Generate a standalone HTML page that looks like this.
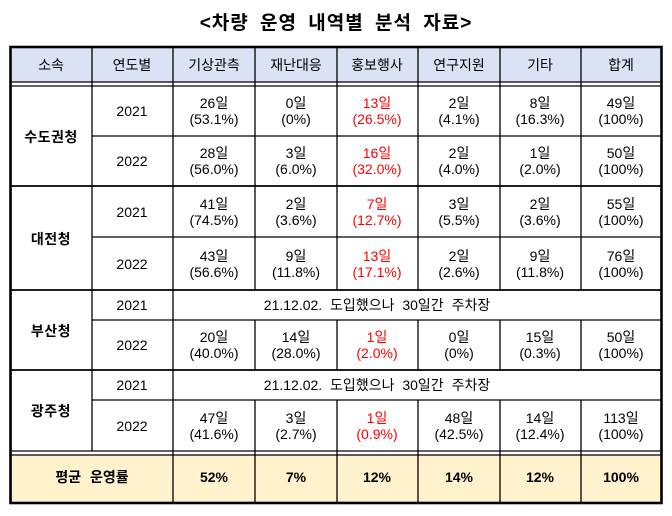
<!DOCTYPE html><html><head><meta charset="utf-8"><style>body{margin:0;background:#fff}svg text{font-family:"Liberation Sans","Noto Sans CJK KR",sans-serif;font-size:14px;fill:#000;text-anchor:middle}</style></head><body>
<svg width="672" height="511" xmlns="http://www.w3.org/2000/svg">
<text x="336" y="29" style="font-size:19px;font-weight:bold;letter-spacing:1px;word-spacing:5px">&lt;차량 운영 내역별 분석 자료&gt;</text>
<rect x="10" y="47" width="652" height="35" fill="#dae3f3"/>
<rect x="10" y="455" width="652" height="48" fill="#fff2cc"/>
<g stroke="#000" stroke-width="1.3" fill="none">
<line x1="10" y1="82" x2="662" y2="82"/><line x1="10" y1="86" x2="662" y2="86"/>
<line x1="10" y1="451" x2="662" y2="451"/><line x1="10" y1="455" x2="662" y2="455"/>
<line x1="10" y1="186" x2="662" y2="186" stroke-width="1.8"/><line x1="10" y1="290" x2="662" y2="290" stroke-width="1.8"/><line x1="10" y1="370" x2="662" y2="370" stroke-width="1.8"/>
<line x1="92" y1="136" x2="662" y2="136"/><line x1="92" y1="237" x2="662" y2="237"/><line x1="92" y1="320" x2="662" y2="320"/><line x1="92" y1="400" x2="662" y2="400"/>
<line x1="92" y1="47" x2="92" y2="451"/><line x1="173" y1="47" x2="173" y2="503"/>
<line x1="255" y1="47" x2="255" y2="290"/><line x1="337" y1="47" x2="337" y2="290"/><line x1="418" y1="47" x2="418" y2="290"/><line x1="500" y1="47" x2="500" y2="290"/><line x1="581" y1="47" x2="581" y2="290"/>
<line x1="255" y1="320" x2="255" y2="370"/><line x1="337" y1="320" x2="337" y2="370"/><line x1="418" y1="320" x2="418" y2="370"/><line x1="500" y1="320" x2="500" y2="370"/><line x1="581" y1="320" x2="581" y2="370"/>
<line x1="255" y1="400" x2="255" y2="503"/><line x1="337" y1="400" x2="337" y2="503"/><line x1="418" y1="400" x2="418" y2="503"/><line x1="500" y1="400" x2="500" y2="503"/><line x1="581" y1="400" x2="581" y2="503"/>
<rect x="10.5" y="47" width="651" height="456" stroke-width="2.6"/>
</g>
<g>
<text x="51" y="70">소속</text><text x="132" y="70">연도별</text><text x="214" y="70">기상관측</text><text x="296" y="70">재난대응</text><text x="377" y="70">홍보행사</text><text x="459" y="70">연구지원</text><text x="540" y="70">기타</text><text x="621" y="70">합계</text>
<g style="font-weight:bold;letter-spacing:0.5px"><text x="51" y="142" style="font-weight:bold">수도권청</text><text x="51" y="244" style="font-weight:bold">대전청</text><text x="51" y="336" style="font-weight:bold">부산청</text><text x="51" y="416" style="font-weight:bold">광주청</text></g>
<text x="132" y="116">2021</text><text x="132" y="166">2022</text><text x="132" y="217">2021</text><text x="132" y="269">2022</text><text x="132" y="310">2021</text><text x="132" y="350">2022</text><text x="132" y="390">2021</text><text x="132" y="431">2022</text>
<text x="377" y="310" style="word-spacing:4px">21.12.02. 도입했으나 30일간 주차장</text><text x="377" y="390" style="word-spacing:4px">21.12.02. 도입했으나 30일간 주차장</text>
</g>
<g style="font-weight:bold">
<text x="92" y="482" style="font-weight:bold;word-spacing:5px">평균 운영률</text>
<text x="214" y="482" style="font-weight:bold">52%</text><text x="296" y="482" style="font-weight:bold">7%</text><text x="377" y="482" style="font-weight:bold">12%</text><text x="459" y="482" style="font-weight:bold">14%</text><text x="540" y="482" style="font-weight:bold">12%</text><text x="621" y="482" style="font-weight:bold">100%</text>
</g>
<g>
<text x="214" y="108">26일</text><text x="214" y="124">(53.1%)</text><text x="296" y="108">0일</text><text x="296" y="124">(0%)</text><text x="377" y="108" style="fill:#f00">13일</text><text x="377" y="124" style="fill:#f00">(26.5%)</text><text x="459" y="108">2일</text><text x="459" y="124">(4.1%)</text><text x="540" y="108">8일</text><text x="540" y="124">(16.3%)</text><text x="621" y="108">49일</text><text x="621" y="124">(100%)</text>
<text x="214" y="158">28일</text><text x="214" y="174">(56.0%)</text><text x="296" y="158">3일</text><text x="296" y="174">(6.0%)</text><text x="377" y="158" style="fill:#f00">16일</text><text x="377" y="174" style="fill:#f00">(32.0%)</text><text x="459" y="158">2일</text><text x="459" y="174">(4.0%)</text><text x="540" y="158">1일</text><text x="540" y="174">(2.0%)</text><text x="621" y="158">50일</text><text x="621" y="174">(100%)</text>
<text x="214" y="209">41일</text><text x="214" y="225">(74.5%)</text><text x="296" y="209">2일</text><text x="296" y="225">(3.6%)</text><text x="377" y="209" style="fill:#f00">7일</text><text x="377" y="225" style="fill:#f00">(12.7%)</text><text x="459" y="209">3일</text><text x="459" y="225">(5.5%)</text><text x="540" y="209">2일</text><text x="540" y="225">(3.6%)</text><text x="621" y="209">55일</text><text x="621" y="225">(100%)</text>
<text x="214" y="261">43일</text><text x="214" y="277">(56.6%)</text><text x="296" y="261">9일</text><text x="296" y="277">(11.8%)</text><text x="377" y="261" style="fill:#f00">13일</text><text x="377" y="277" style="fill:#f00">(17.1%)</text><text x="459" y="261">2일</text><text x="459" y="277">(2.6%)</text><text x="540" y="261">9일</text><text x="540" y="277">(11.8%)</text><text x="621" y="261">76일</text><text x="621" y="277">(100%)</text>
<text x="214" y="342">20일</text><text x="214" y="358">(40.0%)</text><text x="296" y="342">14일</text><text x="296" y="358">(28.0%)</text><text x="377" y="342" style="fill:#f00">1일</text><text x="377" y="358" style="fill:#f00">(2.0%)</text><text x="459" y="342">0일</text><text x="459" y="358">(0%)</text><text x="540" y="342">15일</text><text x="540" y="358">(0.3%)</text><text x="621" y="342">50일</text><text x="621" y="358">(100%)</text>
<text x="214" y="423">47일</text><text x="214" y="439">(41.6%)</text><text x="296" y="423">3일</text><text x="296" y="439">(2.7%)</text><text x="377" y="423" style="fill:#f00">1일</text><text x="377" y="439" style="fill:#f00">(0.9%)</text><text x="459" y="423">48일</text><text x="459" y="439">(42.5%)</text><text x="540" y="423">14일</text><text x="540" y="439">(12.4%)</text><text x="621" y="423">113일</text><text x="621" y="439">(100%)</text>
</g>
</svg></body></html>
